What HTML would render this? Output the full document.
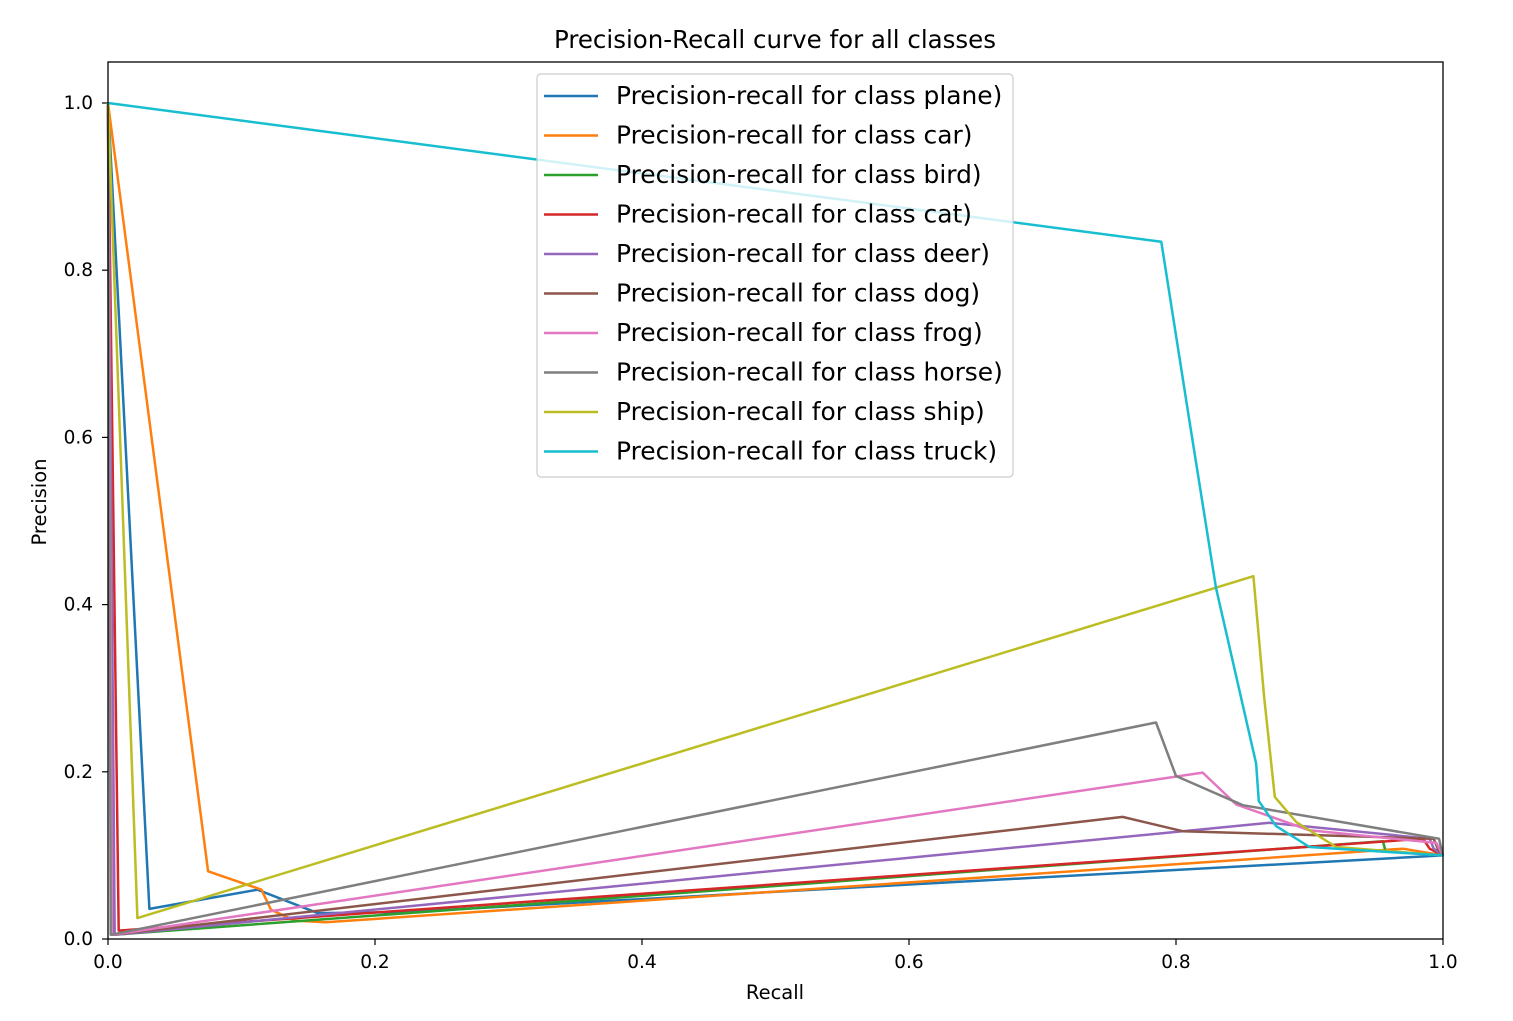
<!DOCTYPE html>
<html><head><meta charset="utf-8"><style>
body{margin:0;background:#fff;}
svg{display:block;font-family:"DejaVu Sans","Liberation Sans",sans-serif;}
</style></head><body>
<svg id="chart" width="1513" height="1021" viewBox="0 0 1513 1021" xmlns="http://www.w3.org/2000/svg">
<rect width="1513" height="1021" fill="#fff"/>
<text x="775" y="48" text-anchor="middle" font-size="24.5" fill="#000">Precision-Recall curve for all classes</text>
<g id="axes"></g>
<g id="series"></g>
<rect x="108" y="62" width="1335" height="877" fill="none" stroke="#000" stroke-width="1.3"/>
<g id="legend"></g>
<text x="775" y="999" text-anchor="middle" font-size="19.5">Recall</text>
<text transform="translate(46,502) rotate(-90)" text-anchor="middle" font-size="19.5">Precision</text>
</svg>
<script>
const classNames = ["plane","car","bird","cat","deer","dog","frog","horse","ship","truck"];
const colors = ["#1f77b4","#ff7f0e","#2ca02c","#d62728","#9467bd","#8c564b","#e377c2","#7f7f7f","#bcbd22","#17becf"];
const xTicks = [0,0.2,0.4,0.6,0.8,1.0];
const yTicks = [0,0.2,0.4,0.6,0.8,1.0];
const recallPlane = [0,0.031,0.112,0.157,0.22,1];
const precPlane   = [1,0.036,0.059,0.031,0.032,0.1];
const recallCar = [0,0.075,0.115,0.122,0.14,0.163,0.97,1];
const precCar   = [1,0.081,0.059,0.035,0.022,0.02,0.108,0.1];
const recallBird = [0,0.004,0.955,0.957,1];
const precBird   = [1,0.005,0.117,0.105,0.1];
const recallCat = [0,0.008,0.985,0.99,1];
const precCat   = [1,0.01,0.12,0.108,0.1];
const recallDeer = [0,0.005,0.87,0.99,0.993,1];
const precDeer   = [1,0.005,0.139,0.12,0.108,0.1];
const recallDog = [0,0.003,0.76,0.805,0.993,0.996,1];
const precDog   = [1,0.005,0.146,0.129,0.12,0.108,0.1];
const recallFrog = [0,0.003,0.82,0.845,0.9,0.995,1];
const precFrog   = [1,0.005,0.199,0.161,0.13,0.115,0.1];
const recallHorse = [0,0.002,0.785,0.8,0.85,0.997,1];
const precHorse   = [1,0.005,0.259,0.195,0.16,0.12,0.1];
const recallShip = [0,0.022,0.858,0.866,0.874,0.89,0.92,1];
const precShip   = [1,0.025,0.434,0.29,0.17,0.14,0.11,0.1];
const recallTruck = [0,0.789,0.81,0.83,0.86,0.862,0.875,0.9,1];
const precTruck   = [1,0.834,0.62,0.42,0.21,0.165,0.135,0.11,0.1];

const recalls = [recallPlane,recallCar,recallBird,recallCat,recallDeer,recallDog,recallFrog,recallHorse,recallShip,recallTruck];
const precs = [precPlane,precCar,precBird,precCat,precDeer,precDog,precFrog,precHorse,precShip,precTruck];

const NS="http://www.w3.org/2000/svg";
const X0=108,X1=1443,Y0=939,Y1=103;
const sx=v=>X0+(X1-X0)*v;
const sy=v=>Y0-(Y0-Y1)*v;
function mk(tag,attrs,parent){const e=document.createElementNS(NS,tag);for(const k in attrs)e.setAttribute(k,attrs[k]);parent.appendChild(e);return e;}
const axes=document.getElementById('axes');
xTicks.forEach(t=>{
  const l=mk('line',{x1:sx(t),x2:sx(t),y1:Y0,y2:Y0+6,stroke:'#000','stroke-width':1.2},axes);
  
  
  const tx=mk('text',{x:sx(t),y:Y0+29,'text-anchor':'middle','font-size':18.5},axes);
  
  
  tx.textContent=t.toFixed(1);
});
yTicks.forEach(t=>{
  const l=mk('line',{x1:X0-6,x2:X0,y1:sy(t),y2:sy(t),stroke:'#000','stroke-width':1.2},axes);
  
  
  const tx=mk('text',{x:X0-15,y:sy(t)+6,'text-anchor':'end','font-size':18.5},axes);
  
  
  tx.textContent=t.toFixed(1);
});
const series=document.getElementById('series');
recalls.forEach((r,i)=>{
  const pts=r.map((v,j)=>sx(v).toFixed(1)+','+sy(precs[i][j]).toFixed(1)).join(' ');
  const pl=mk('polyline',{points:pts,fill:'none',stroke:colors[i],'stroke-width':2.5,'stroke-linejoin':'round'},series);
  
  
});
const lg=document.getElementById('legend');
const box=mk('rect',{x:537,y:74,width:476,height:403,rx:4,fill:'#fff','fill-opacity':0.8,stroke:'#ccc','stroke-width':1.2},lg);


classNames.forEach((c,i)=>{
  const y=96+i*39.5;
  const l=mk('line',{x1:544,x2:598,y1:y,y2:y,stroke:colors[i],'stroke-width':2.5},lg);
  
  
  const t=mk('text',{x:616,y:y+8,'font-size':24.9},lg);
  
  
  t.textContent='Precision-recall for class '+c+')';
});
</script>
</body></html>
